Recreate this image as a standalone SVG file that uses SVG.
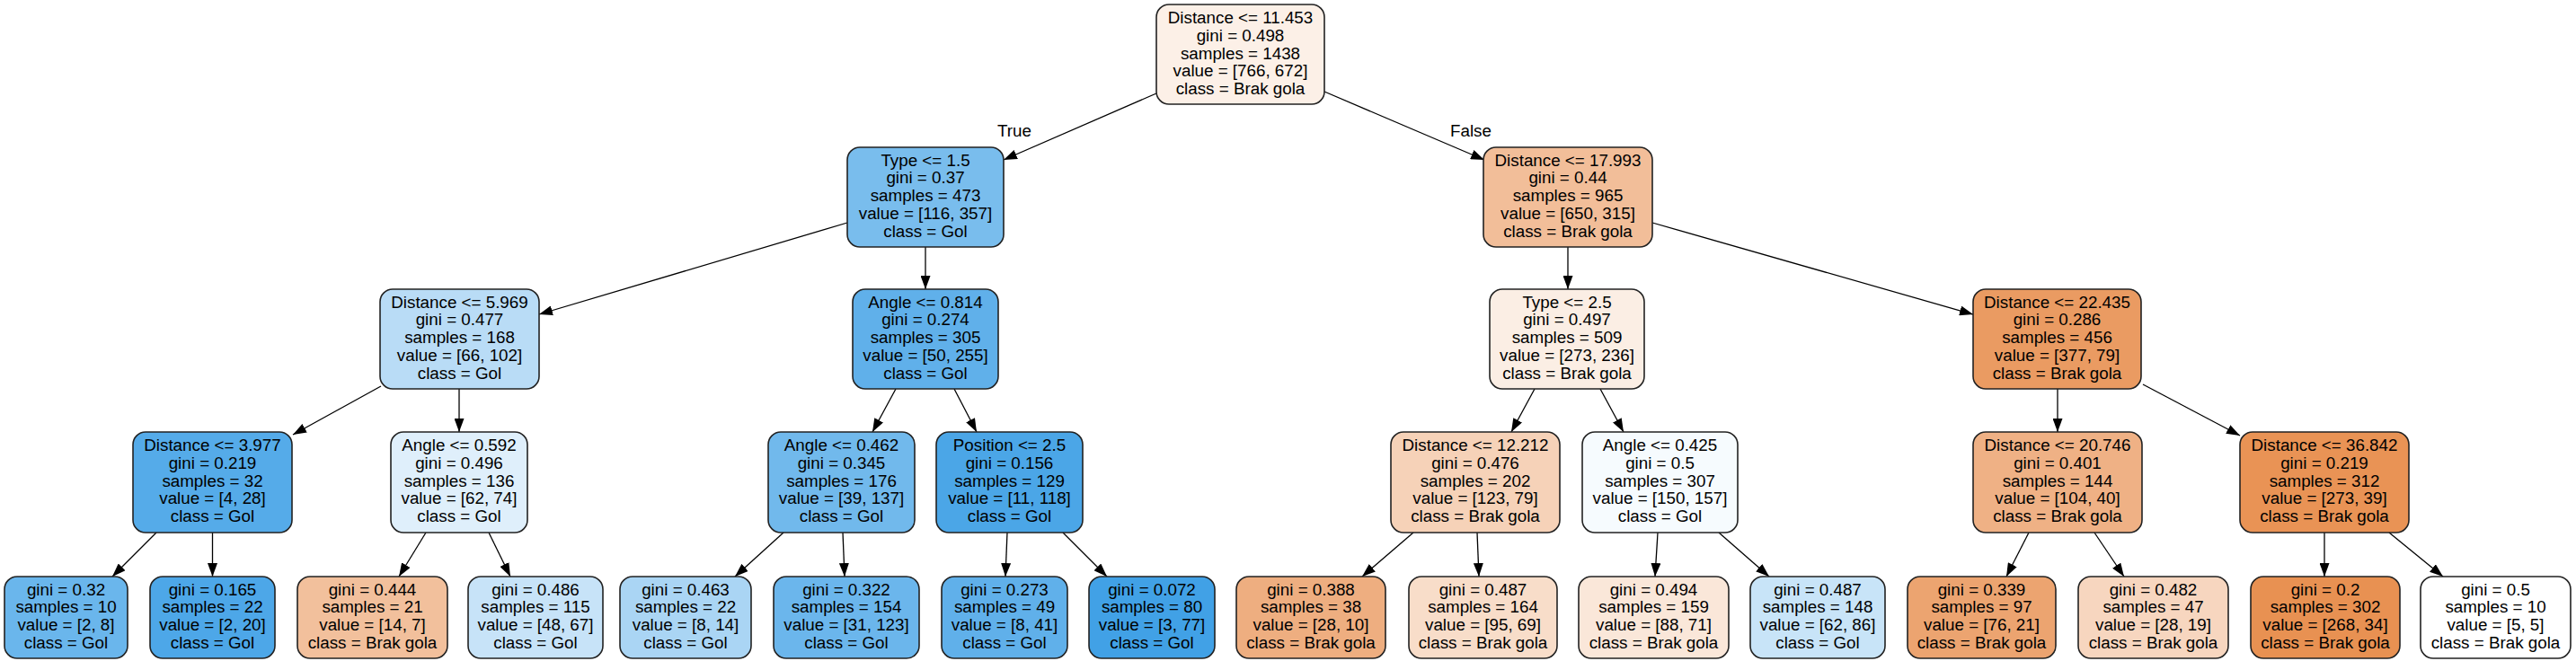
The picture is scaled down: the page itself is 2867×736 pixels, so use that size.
<svg xmlns="http://www.w3.org/2000/svg" width="2867" height="736" viewBox="0 0 2867 736">
<style>
.n rect{stroke:#222;stroke-width:1.6}
.n text,.lbl{font-family:"Liberation Sans",Arial,sans-serif;font-size:18.8px;fill:#000;text-anchor:middle}
.e line{stroke:#000;stroke-width:1.3;marker-end:url(#arr)}
</style>
<defs>
<marker id="arr" markerUnits="userSpaceOnUse" markerWidth="15" markerHeight="11" refX="15" refY="5.5" orient="auto">
<path d="M0,0 L15,5.5 L0,11 z" fill="#000"/>
</marker>
</defs>
<rect width="2867" height="736" fill="#fff"/>
<g id="connectors" class="e">
<line x1="1287" y1="104" x2="1117" y2="178"/>
<line x1="1474" y1="102" x2="1652" y2="178"/>
<line x1="943" y1="248" x2="600" y2="350"/>
<line x1="1030" y1="275" x2="1030" y2="322"/>
<line x1="1745" y1="275" x2="1745" y2="322"/>
<line x1="1839" y1="248" x2="2196" y2="350"/>
<line x1="424" y1="430" x2="326" y2="484"/>
<line x1="511" y1="433" x2="511" y2="481"/>
<line x1="997" y1="433" x2="971" y2="481"/>
<line x1="1062" y1="433" x2="1087" y2="481"/>
<line x1="1708" y1="433" x2="1682" y2="481"/>
<line x1="1781" y1="433" x2="1807" y2="481"/>
<line x1="2290" y1="433" x2="2290" y2="481"/>
<line x1="2385" y1="428" x2="2493" y2="485"/>
<line x1="174" y1="593" x2="125" y2="642"/>
<line x1="236.5" y1="593" x2="236.5" y2="642"/>
<line x1="474" y1="593" x2="444" y2="642"/>
<line x1="544" y1="593" x2="568" y2="642"/>
<line x1="872" y1="593" x2="818" y2="642"/>
<line x1="938" y1="593" x2="940" y2="642"/>
<line x1="1121" y1="593" x2="1119" y2="642"/>
<line x1="1183" y1="593" x2="1232" y2="642"/>
<line x1="1573" y1="593" x2="1516" y2="642"/>
<line x1="1644" y1="593" x2="1646" y2="642"/>
<line x1="1845" y1="593" x2="1842" y2="642"/>
<line x1="1913" y1="593" x2="1969" y2="642"/>
<line x1="2258" y1="593" x2="2233" y2="642"/>
<line x1="2331" y1="593" x2="2364" y2="642"/>
<line x1="2587" y1="593" x2="2587" y2="642"/>
<line x1="2659" y1="593" x2="2719" y2="642"/>
<text class="lbl" x="1129" y="152">True</text>
<text class="lbl" x="1637" y="152">False</text>
</g>

<g id="node0" class="n"><rect x="1287" y="5" width="187" height="111" rx="14" fill="#fcf0e7"/>
<text><tspan x="1380.5" y="26">Distance &lt;= 11.453</tspan><tspan x="1380.5" y="45.75">gini = 0.498</tspan><tspan x="1380.5" y="65.5">samples = 1438</tspan><tspan x="1380.5" y="85.25">value = [766, 672]</tspan><tspan x="1380.5" y="105">class = Brak gola</tspan></text></g>

<g id="node1" class="n"><rect x="943" y="164" width="174" height="111" rx="14" fill="#79bded"/>
<text><tspan x="1030" y="184.5">Type &lt;= 1.5</tspan><tspan x="1030" y="204.25">gini = 0.37</tspan><tspan x="1030" y="224">samples = 473</tspan><tspan x="1030" y="243.75">value = [116, 357]</tspan><tspan x="1030" y="263.5">class = Gol</tspan></text></g>

<g id="node2" class="n"><rect x="1651" y="164" width="188" height="111" rx="14" fill="#f2be99"/>
<text><tspan x="1745" y="184.5">Distance &lt;= 17.993</tspan><tspan x="1745" y="204.25">gini = 0.44</tspan><tspan x="1745" y="224">samples = 965</tspan><tspan x="1745" y="243.75">value = [650, 315]</tspan><tspan x="1745" y="263.5">class = Brak gola</tspan></text></g>

<g id="node3" class="n"><rect x="423" y="322" width="177" height="111" rx="14" fill="#b9dcf6"/>
<text><tspan x="511.5" y="342.5">Distance &lt;= 5.969</tspan><tspan x="511.5" y="362.25">gini = 0.477</tspan><tspan x="511.5" y="382">samples = 168</tspan><tspan x="511.5" y="401.75">value = [66, 102]</tspan><tspan x="511.5" y="421.5">class = Gol</tspan></text></g>

<g id="node4" class="n"><rect x="949" y="322" width="162" height="111" rx="14" fill="#60b0ea"/>
<text><tspan x="1030" y="342.5">Angle &lt;= 0.814</tspan><tspan x="1030" y="362.25">gini = 0.274</tspan><tspan x="1030" y="382">samples = 305</tspan><tspan x="1030" y="401.75">value = [50, 255]</tspan><tspan x="1030" y="421.5">class = Gol</tspan></text></g>

<g id="node5" class="n"><rect x="1658" y="322" width="172" height="111" rx="14" fill="#fbeee4"/>
<text><tspan x="1744" y="342.5">Type &lt;= 2.5</tspan><tspan x="1744" y="362.25">gini = 0.497</tspan><tspan x="1744" y="382">samples = 509</tspan><tspan x="1744" y="401.75">value = [273, 236]</tspan><tspan x="1744" y="421.5">class = Brak gola</tspan></text></g>

<g id="node6" class="n"><rect x="2196" y="322" width="187" height="111" rx="14" fill="#ea9b62"/>
<text><tspan x="2289.5" y="342.5">Distance &lt;= 22.435</tspan><tspan x="2289.5" y="362.25">gini = 0.286</tspan><tspan x="2289.5" y="382">samples = 456</tspan><tspan x="2289.5" y="401.75">value = [377, 79]</tspan><tspan x="2289.5" y="421.5">class = Brak gola</tspan></text></g>

<g id="node7" class="n"><rect x="148" y="481" width="177" height="112" rx="14" fill="#55abe9"/>
<text><tspan x="236.5" y="502">Distance &lt;= 3.977</tspan><tspan x="236.5" y="521.75">gini = 0.219</tspan><tspan x="236.5" y="541.5">samples = 32</tspan><tspan x="236.5" y="561.25">value = [4, 28]</tspan><tspan x="236.5" y="581">class = Gol</tspan></text></g>

<g id="node8" class="n"><rect x="435" y="481" width="152" height="112" rx="14" fill="#dfeffb"/>
<text><tspan x="511" y="502">Angle &lt;= 0.592</tspan><tspan x="511" y="521.75">gini = 0.496</tspan><tspan x="511" y="541.5">samples = 136</tspan><tspan x="511" y="561.25">value = [62, 74]</tspan><tspan x="511" y="581">class = Gol</tspan></text></g>

<g id="node9" class="n"><rect x="855" y="481" width="163" height="112" rx="14" fill="#71b9ec"/>
<text><tspan x="936.5" y="502">Angle &lt;= 0.462</tspan><tspan x="936.5" y="521.75">gini = 0.345</tspan><tspan x="936.5" y="541.5">samples = 176</tspan><tspan x="936.5" y="561.25">value = [39, 137]</tspan><tspan x="936.5" y="581">class = Gol</tspan></text></g>

<g id="node10" class="n"><rect x="1042" y="481" width="163" height="112" rx="14" fill="#4ba6e7"/>
<text><tspan x="1123.5" y="502">Position &lt;= 2.5</tspan><tspan x="1123.5" y="521.75">gini = 0.156</tspan><tspan x="1123.5" y="541.5">samples = 129</tspan><tspan x="1123.5" y="561.25">value = [11, 118]</tspan><tspan x="1123.5" y="581">class = Gol</tspan></text></g>

<g id="node11" class="n"><rect x="1548" y="481" width="188" height="112" rx="14" fill="#f6d2b8"/>
<text><tspan x="1642" y="502">Distance &lt;= 12.212</tspan><tspan x="1642" y="521.75">gini = 0.476</tspan><tspan x="1642" y="541.5">samples = 202</tspan><tspan x="1642" y="561.25">value = [123, 79]</tspan><tspan x="1642" y="581">class = Brak gola</tspan></text></g>

<g id="node12" class="n"><rect x="1761" y="481" width="173" height="112" rx="14" fill="#f6fbfe"/>
<text><tspan x="1847.5" y="502">Angle &lt;= 0.425</tspan><tspan x="1847.5" y="521.75">gini = 0.5</tspan><tspan x="1847.5" y="541.5">samples = 307</tspan><tspan x="1847.5" y="561.25">value = [150, 157]</tspan><tspan x="1847.5" y="581">class = Gol</tspan></text></g>

<g id="node13" class="n"><rect x="2196" y="481" width="188" height="112" rx="14" fill="#efb185"/>
<text><tspan x="2290" y="502">Distance &lt;= 20.746</tspan><tspan x="2290" y="521.75">gini = 0.401</tspan><tspan x="2290" y="541.5">samples = 144</tspan><tspan x="2290" y="561.25">value = [104, 40]</tspan><tspan x="2290" y="581">class = Brak gola</tspan></text></g>

<g id="node14" class="n"><rect x="2493" y="481" width="188" height="112" rx="14" fill="#e99355"/>
<text><tspan x="2587" y="502">Distance &lt;= 36.842</tspan><tspan x="2587" y="521.75">gini = 0.219</tspan><tspan x="2587" y="541.5">samples = 312</tspan><tspan x="2587" y="561.25">value = [273, 39]</tspan><tspan x="2587" y="581">class = Brak gola</tspan></text></g>

<g id="leaf1" class="n"><rect x="5" y="642" width="137" height="91" rx="14" fill="#6ab6ec"/>
<text><tspan x="73.5" y="662.5">gini = 0.32</tspan><tspan x="73.5" y="682.25">samples = 10</tspan><tspan x="73.5" y="702">value = [2, 8]</tspan><tspan x="73.5" y="721.75">class = Gol</tspan></text></g>

<g id="leaf2" class="n"><rect x="167" y="642" width="139" height="91" rx="14" fill="#4da7e8"/>
<text><tspan x="236.5" y="662.5">gini = 0.165</tspan><tspan x="236.5" y="682.25">samples = 22</tspan><tspan x="236.5" y="702">value = [2, 20]</tspan><tspan x="236.5" y="721.75">class = Gol</tspan></text></g>

<g id="leaf3" class="n"><rect x="331" y="642" width="167" height="91" rx="14" fill="#f2c09c"/>
<text><tspan x="414.5" y="662.5">gini = 0.444</tspan><tspan x="414.5" y="682.25">samples = 21</tspan><tspan x="414.5" y="702">value = [14, 7]</tspan><tspan x="414.5" y="721.75">class = Brak gola</tspan></text></g>

<g id="leaf4" class="n"><rect x="521" y="642" width="150" height="91" rx="14" fill="#c7e3f8"/>
<text><tspan x="596" y="662.5">gini = 0.486</tspan><tspan x="596" y="682.25">samples = 115</tspan><tspan x="596" y="702">value = [48, 67]</tspan><tspan x="596" y="721.75">class = Gol</tspan></text></g>

<g id="leaf5" class="n"><rect x="690" y="642" width="146" height="91" rx="14" fill="#aad5f4"/>
<text><tspan x="763" y="662.5">gini = 0.463</tspan><tspan x="763" y="682.25">samples = 22</tspan><tspan x="763" y="702">value = [8, 14]</tspan><tspan x="763" y="721.75">class = Gol</tspan></text></g>

<g id="leaf6" class="n"><rect x="861" y="642" width="162" height="91" rx="14" fill="#6bb6ec"/>
<text><tspan x="942" y="662.5">gini = 0.322</tspan><tspan x="942" y="682.25">samples = 154</tspan><tspan x="942" y="702">value = [31, 123]</tspan><tspan x="942" y="721.75">class = Gol</tspan></text></g>

<g id="leaf7" class="n"><rect x="1048" y="642" width="140" height="91" rx="14" fill="#60b0ea"/>
<text><tspan x="1118" y="662.5">gini = 0.273</tspan><tspan x="1118" y="682.25">samples = 49</tspan><tspan x="1118" y="702">value = [8, 41]</tspan><tspan x="1118" y="721.75">class = Gol</tspan></text></g>

<g id="leaf8" class="n"><rect x="1212" y="642" width="140" height="91" rx="14" fill="#41a1e6"/>
<text><tspan x="1282" y="662.5">gini = 0.072</tspan><tspan x="1282" y="682.25">samples = 80</tspan><tspan x="1282" y="702">value = [3, 77]</tspan><tspan x="1282" y="721.75">class = Gol</tspan></text></g>

<g id="leaf9" class="n"><rect x="1376" y="642" width="166" height="91" rx="14" fill="#eeae80"/>
<text><tspan x="1459" y="662.5">gini = 0.388</tspan><tspan x="1459" y="682.25">samples = 38</tspan><tspan x="1459" y="702">value = [28, 10]</tspan><tspan x="1459" y="721.75">class = Brak gola</tspan></text></g>

<g id="leaf10" class="n"><rect x="1568" y="642" width="165" height="91" rx="14" fill="#f8ddc9"/>
<text><tspan x="1650.5" y="662.5">gini = 0.487</tspan><tspan x="1650.5" y="682.25">samples = 164</tspan><tspan x="1650.5" y="702">value = [95, 69]</tspan><tspan x="1650.5" y="721.75">class = Brak gola</tspan></text></g>

<g id="leaf11" class="n"><rect x="1757" y="642" width="167" height="91" rx="14" fill="#fae7d9"/>
<text><tspan x="1840.5" y="662.5">gini = 0.494</tspan><tspan x="1840.5" y="682.25">samples = 159</tspan><tspan x="1840.5" y="702">value = [88, 71]</tspan><tspan x="1840.5" y="721.75">class = Brak gola</tspan></text></g>

<g id="leaf12" class="n"><rect x="1948" y="642" width="150" height="91" rx="14" fill="#c8e4f8"/>
<text><tspan x="2023" y="662.5">gini = 0.487</tspan><tspan x="2023" y="682.25">samples = 148</tspan><tspan x="2023" y="702">value = [62, 86]</tspan><tspan x="2023" y="721.75">class = Gol</tspan></text></g>

<g id="leaf13" class="n"><rect x="2123" y="642" width="165" height="91" rx="14" fill="#eca470"/>
<text><tspan x="2205.5" y="662.5">gini = 0.339</tspan><tspan x="2205.5" y="682.25">samples = 97</tspan><tspan x="2205.5" y="702">value = [76, 21]</tspan><tspan x="2205.5" y="721.75">class = Brak gola</tspan></text></g>

<g id="leaf14" class="n"><rect x="2313" y="642" width="167" height="91" rx="14" fill="#f7d6bf"/>
<text><tspan x="2396.5" y="662.5">gini = 0.482</tspan><tspan x="2396.5" y="682.25">samples = 47</tspan><tspan x="2396.5" y="702">value = [28, 19]</tspan><tspan x="2396.5" y="721.75">class = Brak gola</tspan></text></g>

<g id="leaf15" class="n"><rect x="2505" y="642" width="166" height="91" rx="14" fill="#e89152"/>
<text><tspan x="2588" y="662.5">gini = 0.2</tspan><tspan x="2588" y="682.25">samples = 302</tspan><tspan x="2588" y="702">value = [268, 34]</tspan><tspan x="2588" y="721.75">class = Brak gola</tspan></text></g>

<g id="leaf16" class="n"><rect x="2694" y="642" width="167" height="91" rx="14" fill="#ffffff"/>
<text><tspan x="2777.5" y="662.5">gini = 0.5</tspan><tspan x="2777.5" y="682.25">samples = 10</tspan><tspan x="2777.5" y="702">value = [5, 5]</tspan><tspan x="2777.5" y="721.75">class = Brak gola</tspan></text></g>
</svg>
